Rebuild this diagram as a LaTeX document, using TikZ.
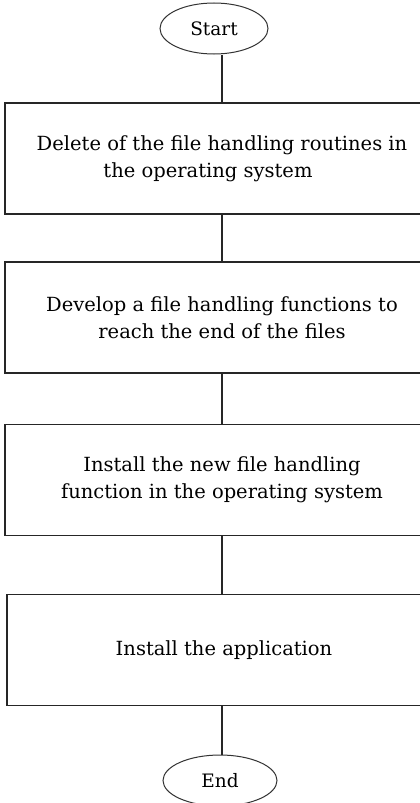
\documentclass[tikz,border=0pt]{standalone}
\usepackage{fontspec}
\setmainfont{DejaVu Serif}
\usetikzlibrary{shapes.geometric}
\begin{document}
\begin{tikzpicture}[x=1pt,y=-1pt,
  stepbox/.style={draw=black!85, line width=1.6pt, rectangle, minimum width=434pt,
    minimum height=111pt, align=center, font=\fontsize{19.5}{27}\selectfont, inner sep=0pt},
  terminal/.style={draw=black!80, line width=1pt, ellipse, minimum width=108pt,
    minimum height=51pt, inner sep=0pt, font=\fontsize{18.5}{21}\selectfont},
  link/.style={draw=black!85, line width=1.3pt}]
\useasboundingbox (0,0) rectangle (420,803);
\clip (0,0) rectangle (420,803);
\fill[white] (0,0) rectangle (420,803);
\node[terminal] (start) at (214,28.5) {Start};
\node[stepbox] (b1) at (222,158.5) {\raisebox{5pt}{\begin{tabular}{@{}c@{}}Delete of the file handling routines in\\ \hspace*{-28pt}the operating system\end{tabular}}};
\node[stepbox] (b2) at (222,317.5) {Develop a file handling functions to\\ reach the end of the files};
\node[stepbox] (b3) at (222,480) {\raisebox{3pt}{\begin{tabular}{@{}c@{}}Install the new file handling\\ function in the operating system\end{tabular}}};
\node[stepbox] (b4) at (224,650) {\raisebox{4pt}{Install the application}};
\node[terminal, minimum width=114pt] (end) at (220,780.5) {End};
\draw[link] (b1.north) -- (b1.north |- start.south);
\draw[link] (b1.south) -- (b2.north);
\draw[link] (b2.south) -- (b3.north);
\draw[link] (b3.south) -- (b4.north -| b3.south);
\draw[link] (b4.south -| b3.south) -- (end.north -| b3.south);
\end{tikzpicture}
\end{document}
